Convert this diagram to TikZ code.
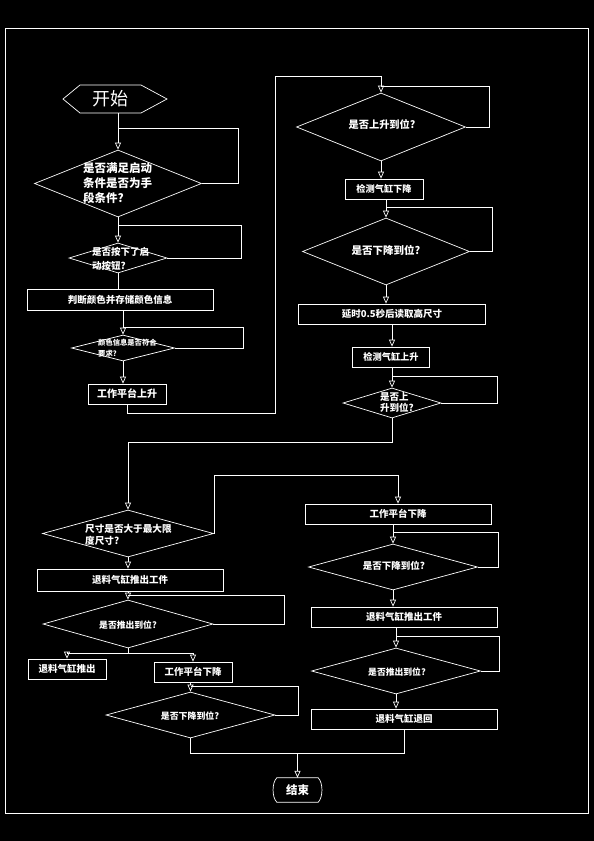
\documentclass[tikz,border=0pt]{standalone}
\usepackage{fontspec}
\setmainfont{Noto Sans CJK SC}
\usetikzlibrary{shapes.geometric,arrows.meta}
\newcommand{\myfs}[2]{\fontsize{#1}{#2}\selectfont}
\begin{document}
\begin{tikzpicture}[x=1pt,y=-1pt,
  every node/.style={text=white, inner sep=0pt},
  ln/.style={draw=white, line width=0.7pt},
  arr/.style={ln, -{Triangle[open, width=6pt, length=7pt]}},
  box/.style={rectangle, draw=white, line width=0.7pt, minimum height=20pt, font=\bfseries\myfs{9.5}{11}},
  dia/.style={diamond, draw=white, line width=0.7pt, inner sep=0pt},
  lbl/.style={font=\bfseries\myfs{9.5}{12}, align=left}
]
\fill[black] (0,0) rectangle (594,841);
\useasboundingbox (0,0) rectangle (594,841);
\draw[ln] (5,28) rectangle (588,813);

% start
\node[font=\myfs{18}{18}] (start) at (110,99) {开始};
\draw[ln] (63,99) -- (80,85) -- (141,85) -- (167,99) -- (141,113) -- (80,113) -- cycle;
\coordinate (startb) at (118,113);

% left top column
\node[dia, minimum width=167pt, minimum height=67pt] (d1) at (118,183.5) {};
\node[lbl, font=\bfseries\myfs{11.5}{15}, anchor=west] (d1t) at (83,183.5) {是否满足启动\\条件是否为手\\段条件?};
\node[dia, minimum width=98pt, minimum height=30pt] (d2) at (118,258) {};
\node[lbl, font=\bfseries\myfs{9.5}{14}, anchor=west] (d2t) at (92,259) {是否按下了启\\动按钮?};
\node[box, minimum width=186pt, minimum height=21pt] (b3) at (120,299.5) {判断颜色并存储颜色信息};
\node[dia, minimum width=103pt, minimum height=26pt] (d4) at (123,348) {};
\node[lbl, font=\bfseries\myfs{7.3}{11}, anchor=west] (d4t) at (98,348.5) {颜色信息是否符合\\要求?};
\node[box, minimum width=78pt, font=\bfseries\myfs{10}{11}] (b5) at (127,394) {工作平台上升};

% right top column
\node[dia, minimum width=169pt, minimum height=68pt] (d6) at (381,127) {};
\node[lbl, font=\bfseries\myfs{10.2}{12}] (d6t) at (382,124.5) {是否上升到位?};
\node[box, minimum width=78pt, font=\bfseries\myfs{9.2}{11}] (b7) at (384,189) {检测气缸下降};
\node[dia, minimum width=167pt, minimum height=67pt] (d8) at (386,251.5) {};
\node[lbl, font=\bfseries\myfs{10.5}{12}] (d8t) at (386,250) {是否下降到位?};
\node[box, minimum width=187pt] (b9) at (392,314) {延时0.5秒后读取高尺寸};
\node[box, minimum width=77pt, font=\bfseries\myfs{9.2}{11}] (b10) at (391,357) {检测气缸上升};
\node[dia, minimum width=98pt, minimum height=30pt] (d11) at (392,403) {};
\node[lbl, font=\bfseries\myfs{9.5}{10.5}, anchor=west] (d11t) at (380,402.5) {是否上\\升到位?};

% lower left
\node[dia, minimum width=171pt, minimum height=47pt] (d12) at (128,533.5) {};
\node[lbl, font=\bfseries\myfs{9.6}{12}, anchor=west] (d12t) at (85,535) {尺寸是否大于最大限\\度尺寸?};
\node[box, minimum width=186pt, minimum height=22pt] (b13) at (130,580) {退料气缸推出工件};
\node[dia, minimum width=170pt, minimum height=48pt] (d14) at (128,624) {};
\node[lbl, font=\bfseries\myfs{8.8}{10}] (d14t) at (128,625) {是否推出到位?};
\node[box, minimum width=78pt] (b15) at (67,669) {退料气缸推出};
\node[box, minimum width=78pt] (b16) at (193,672) {工作平台下降};
\node[dia, minimum width=169pt, minimum height=46pt] (d17) at (190.5,715) {};
\node[lbl, font=\bfseries\myfs{8.9}{10}] (d17t) at (190,716) {是否下降到位?};

% lower right
\node[box, minimum width=186pt] (b18) at (398,514) {工作平台下降};
\node[dia, minimum width=169pt, minimum height=46pt] (d19) at (393,567) {};
\node[lbl, font=\bfseries\myfs{9.5}{10}] (d19t) at (394,566) {是否下降到位?};
\node[box, minimum width=186pt] (b20) at (404,617) {退料气缸推出工件};
\node[dia, minimum width=169pt, minimum height=46pt] (d21) at (396,671) {};
\node[lbl, font=\bfseries\myfs{8.8}{10}] (d21t) at (397,672) {是否推出到位?};
\node[box, minimum width=186pt] (b22) at (404,719) {退料气缸退回};

% end
\node[font=\bfseries\myfs{11.5}{12}, minimum width=49pt, minimum height=24pt] (stop) at (297.5,790) {结束};
\draw[ln] ([xshift=4pt]stop.north west) -- ([xshift=-4pt]stop.north east)
  .. controls ([xshift=1pt,yshift=-5pt]stop.north east) and ([xshift=1pt,yshift=5pt]stop.south east) .. ([xshift=-4pt]stop.south east)
  -- ([xshift=4pt]stop.south west)
  .. controls ([xshift=-1pt,yshift=5pt]stop.south west) and ([xshift=-1pt,yshift=-5pt]stop.north west) .. cycle;

% connectors
\draw[arr] (startb) -- (d1.north);
\draw[ln] (d1.east) -- ++(36,0) |- ([yshift=21pt]d1.north);
\draw[arr] (d1.south) -- (d2.north);
\draw[ln] (d2.east) -- ++(74,0) |- ([yshift=17pt]d2.north);
\draw[ln] (d2.south) -- (d2.south |- b3.north);
\draw[arr] (d4.north |- b3.south) -- (d4.north);
\draw[ln] (d4.east) -- ++(68,0) |- ([yshift=7pt]d4.north);
\draw[arr] (d4.south) -- (d4.south |- b5.north);
\draw[arr] (b5.south) -- ++(0,9) -| (275,76) -| (d6.north);

\draw[ln] (d6.east) -- ++(23,0) |- ([yshift=6pt]d6.north);
\draw[arr] (d6.south) -- (d6.south |- b7.north);
\draw[arr] (d8.north |- b7.south) -- (d8.north);
\draw[ln] (d8.east) -- ++(22,0) |- ([yshift=10pt]d8.north);
\draw[arr] (d8.south) -- (d8.south |- b9.north);
\draw[arr] (b9.south) -- (b9.south |- b10.north);
\draw[arr] (d11.north |- b10.south) -- (d11.north);
\draw[ln] (d11.east) -- ++(56,0) |- ([yshift=11pt]d11.north);
\draw[arr] (d11.south) -- ++(0,24) -| (d12.north);

\draw[arr] (d12.east) -- ++(0,-58) -| (b18.north);
\draw[arr] (d12.south) -- (d12.south |- b13.north);
\draw[arr] (d14.north |- b13.south) -- (d14.north);
\draw[ln] (d14.east) -- ++(71,0) |- ([yshift=4pt]d14.north);
\draw[ln] (d14.south) -- ++(0,5) coordinate (split);
\draw[arr] (split) -| (b15.north);
\draw[arr] (split) -| (b16.north);
\draw[arr] (d17.north |- b16.south) -- (d17.north);
\draw[ln] (d17.east) -- ++(23,0) |- ([yshift=5pt]d17.north);
\draw[ln] (d17.south) -- ++(0,15) coordinate (merge) -| (b22.south);
\draw[arr] (merge -| stop.north) -- (stop.north);

\draw[arr] (d19.north |- b18.south) -- (d19.north);
\draw[ln] (d19.east) -- ++(20,0) |- ([yshift=11pt]d19.north);
\draw[arr] (d19.south) -- (d19.south |- b20.north);
\draw[arr] (d21.north |- b20.south) -- (d21.north);
\draw[ln] (d21.east) -- ++(18,0) |- ([yshift=11pt]d21.north);
\draw[arr] (d21.south) -- (d21.south |- b22.north);
\end{tikzpicture}
\end{document}
